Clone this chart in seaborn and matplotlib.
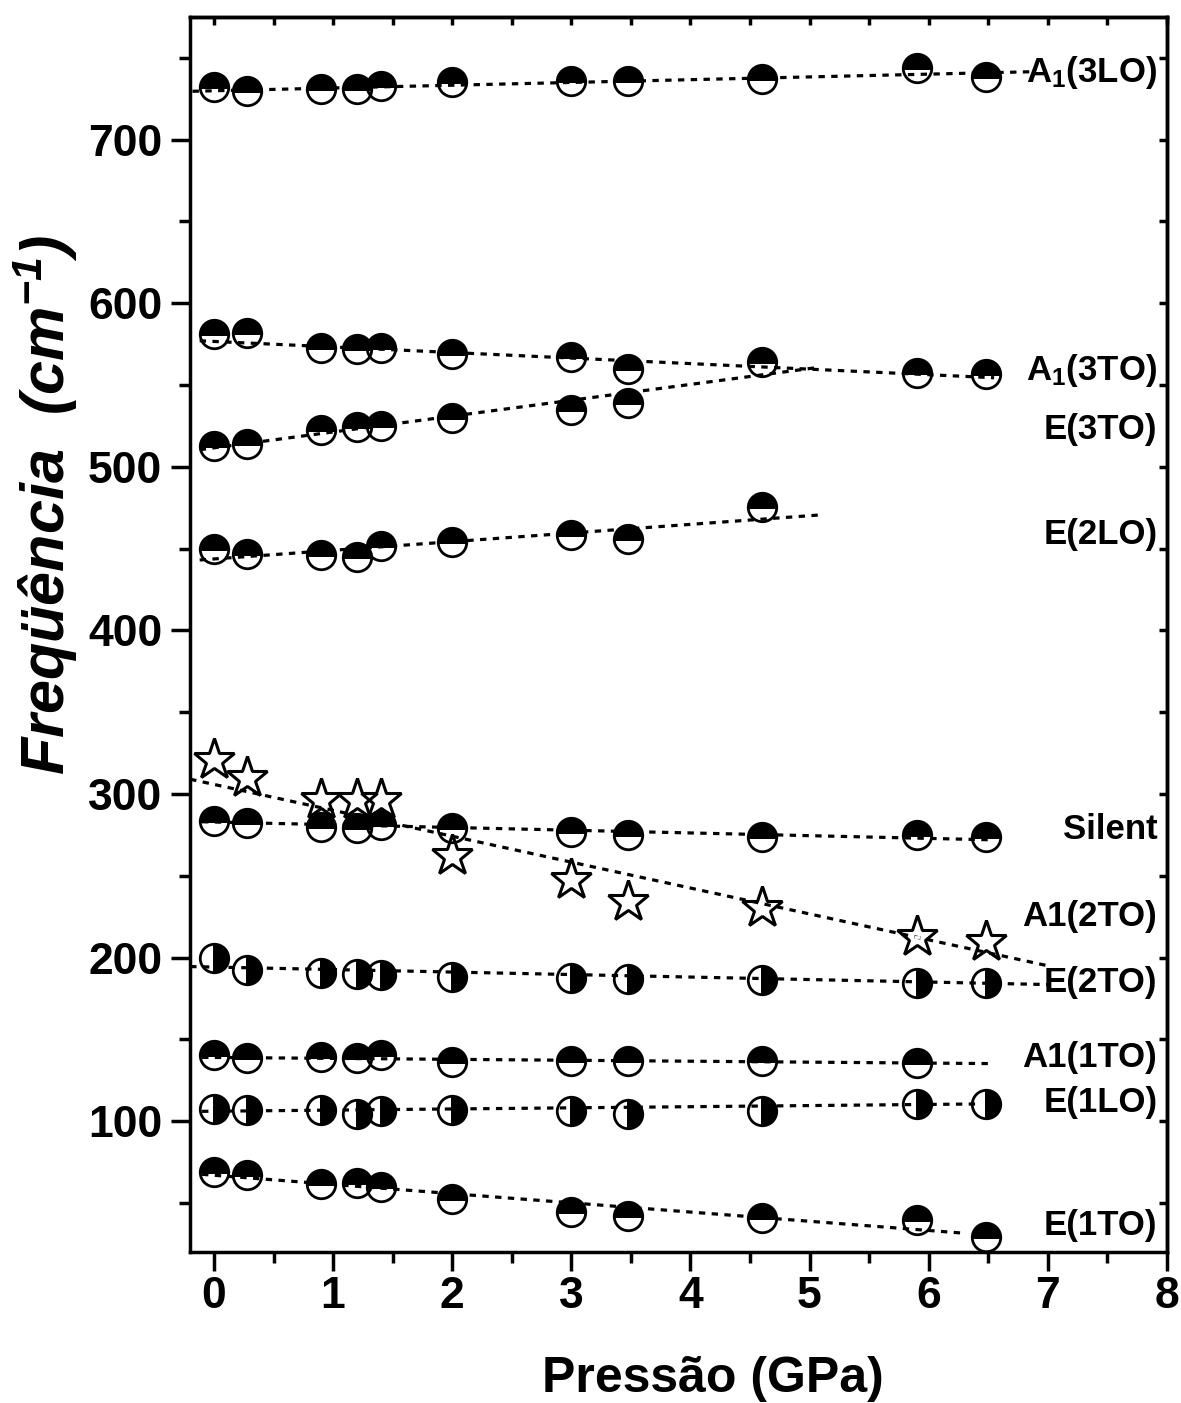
import matplotlib
matplotlib.use("Agg")
import matplotlib.pyplot as plt
from matplotlib.ticker import MultipleLocator
import pandas as pd
import seaborn as sns

# ---- measured Raman mode frequencies (cm^-1) versus pressure (GPa) ----
pressure = [0.0, 0.28, 0.9, 1.2, 1.4, 2.0, 3.0, 3.48, 4.6, 5.9, 6.48]

a1_3lo = [732.4, 729.4, 731.0, 731.0, 733.0, 735.0, 735.5, 735.5, 736.7, 744.0, 738.0]
a1_3to = [580.9, 582.0, 572.8, 571.8, 572.4, 568.9, 567.0, 560.0, 563.9, 557.6, 556.6]
e_3to = [512.8, 513.6, 522.4, 524.0, 524.7, 529.8, 534.7, 539.1]
e_2lo = [450.0, 446.8, 445.9, 444.8, 451.8, 453.8, 458.5, 455.7, 475.5]
silent = [283.3, 282.0, 279.5, 279.2, 280.9, 279.0, 276.6, 274.7, 273.9, 274.9, 273.9]
a1_2to = [321.0, 309.6, 296.3, 296.3, 296.3, 262.1, 247.4, 234.1, 230.5, 212.8, 209.7]
e_2to = [199.5, 192.4, 190.3, 190.0, 189.5, 188.3, 187.3, 186.9, 186.0, 184.2, 184.2]
a1_1to = [140.6, 138.3, 139.3, 138.3, 140.2, 135.9, 137.0, 136.7, 137.0, 135.8]
e_1lo = [107.3, 106.7, 106.7, 104.6, 106.1, 106.7, 106.0, 104.6, 106.0, 110.5, 110.3]
e_1to = [69.0, 67.2, 61.6, 61.9, 59.8, 52.7, 44.3, 42.2, 41.0, 39.6, 29.0]

# ---- linear fits: end points (pressure, frequency) ----
fit_a1_3lo = ([-0.18, 6.9], [729.5, 741.5])
fit_a1_3to = ([-0.12, 6.55], [577.0, 554.4])
fit_e_3to = ([-0.12, 5.05], [510.4, 560.5])
fit_e_2lo = ([-0.12, 5.1], [443.0, 470.6])
fit_silent = ([-0.1, 6.5], [283.0, 272.0])
fit_a1_2to = ([-0.2, 7.0], [309.0, 195.0])
fit_e_2to = ([-0.2, 7.0], [194.5, 183.5])
fit_a1_1to = ([-0.1, 6.5], [139.0, 135.2])
fit_e_1lo = ([-0.1, 6.4], [106.0, 110.5])
fit_e_1to = ([-0.1, 6.3], [67.5, 31.5])

# ---- mode labels on the right ----
label_text = [r"A$_\mathrm{1}$(3LO)", r"A$_\mathrm{1}$(3TO)", "E(3TO)", "E(2LO)", "Silent",
              "A1(2TO)", "E(2TO)", "A1(1TO)", "E(1LO)", "E(1TO)"]
label_y = [741.0, 559.0, 522.6, 458.4, 278.0, 224.8, 185.0, 139.0, 111.6, 36.4]
label_x = 7.92

x_ticks = [0, 1, 2, 3, 4, 5, 6, 7, 8]
y_ticks = [100, 200, 300, 400, 500, 600, 700]

sns.set_style("ticks")
plt.rcParams["font.family"] = ["Liberation Sans", "DejaVu Sans"]
plt.rcParams["font.weight"] = "bold"
plt.rcParams["text.color"] = "black"
plt.rcParams["axes.labelcolor"] = "black"
plt.rcParams["xtick.color"] = "black"
plt.rcParams["ytick.color"] = "black"
plt.rcParams["axes.edgecolor"] = "black"
plt.rcParams["mathtext.fontset"] = "custom"
plt.rcParams["mathtext.rm"] = "Liberation Sans:bold"
plt.rcParams["mathtext.bf"] = "Liberation Sans:bold:italic"
plt.rcParams["mathtext.it"] = "Liberation Sans:bold:italic"

fig = plt.figure(figsize=(11.81, 14.03), dpi=100)
ax = fig.add_axes([0.161, 0.1076, 0.827, 0.8804])

dash = (0, (2.0, 2.0))
fits = [fit_a1_3lo, fit_a1_3to, fit_e_3to, fit_e_2lo, fit_silent,
        fit_a1_2to, fit_e_2to, fit_a1_1to, fit_e_1lo, fit_e_1to]
for fx, fy in fits:
    sns.lineplot(x=fx, y=fy, ax=ax, color="black", linewidth=2.3,
                 linestyle=dash, estimator=None, sort=False, legend=False)

circle_kw = dict(marker="o", linestyle="", markersize=20.5, color="black",
                 markerfacecolor="black", markeredgecolor="black",
                 markeredgewidth=2.0, estimator=None, sort=False, legend=False)

top_half = [a1_3lo, a1_3to, e_3to, e_2lo, silent, a1_1to, e_1to]
right_half = [e_2to, e_1lo]
for ys in top_half:
    sns.lineplot(x=pressure[:len(ys)], y=ys, ax=ax, fillstyle="top", **circle_kw)
for ys in right_half:
    sns.lineplot(x=pressure[:len(ys)], y=ys, ax=ax, fillstyle="right", **circle_kw)

# open stars with a small centre tick
sns.lineplot(x=pressure, y=a1_2to, ax=ax, marker="*", linestyle="", markersize=31,
             markerfacecolor="none", markeredgecolor="black", markeredgewidth=2.2,
             color="black", estimator=None, sort=False, legend=False)
sns.lineplot(x=pressure, y=a1_2to, ax=ax, marker="_", linestyle="", markersize=5,
             markeredgewidth=2.0, color="black", estimator=None, sort=False, legend=False)

for txt, ly in zip(label_text, label_y):
    ax.text(label_x, ly, txt, ha="right", va="center", fontsize=25,
            fontweight="bold", color="black")

ax.set_xlim(-0.2, 8)
ax.set_ylim(20, 775)
ax.set_xticks(x_ticks)
ax.set_yticks(y_ticks)
ax.xaxis.set_minor_locator(MultipleLocator(0.5))
ax.yaxis.set_minor_locator(MultipleLocator(50))

for side in ["left", "right", "top", "bottom"]:
    ax.spines[side].set_visible(True)
    ax.spines[side].set_linewidth(2.5)
    ax.spines[side].set_color("black")

ax.tick_params(axis="both", which="major", direction="out", length=14, width=2.5,
               labelsize=32, color="black", labelcolor="black")
ax.tick_params(axis="y", which="major", pad=6)
ax.tick_params(axis="x", which="major", pad=3)
ax.tick_params(axis="both", which="minor", direction="out", length=8, width=2.5,
               color="black")
ax.tick_params(axis="both", which="both", top=False, right=False)
for lab in ax.get_xticklabels() + ax.get_yticklabels():
    lab.set_fontweight("bold")

# short inward ticks on the right and top spines
ax_r = ax.secondary_yaxis("right")
ax_r.set_yticks(y_ticks)
ax_r.yaxis.set_minor_locator(MultipleLocator(50))
ax_r.tick_params(which="both", direction="in", length=6, width=2.5, labelright=False,
                 color="black")
ax_r.spines["right"].set_linewidth(2.5)
ax_t = ax.secondary_xaxis("top")
ax_t.set_xticks(x_ticks)
ax_t.xaxis.set_minor_locator(MultipleLocator(0.5))
ax_t.tick_params(which="both", direction="in", length=6, width=2.5, labeltop=False,
                 color="black")
ax_t.spines["top"].set_linewidth(2.5)

ax.set_xlabel("Pressão (GPa)", fontsize=36, fontweight="bold", color="black")
ax.set_ylabel(r"Freqüência  (cm$^{\mathbf{-1}}$)", fontsize=44, fontweight="bold",
              fontstyle="italic", color="black")
ax.xaxis.set_label_coords(0.535, -0.084)
ax.yaxis.set_label_coords(-0.148, 0.605)
ax.yaxis.label.set_va("center")

fig.savefig("out.png", dpi=100, facecolor="white")
